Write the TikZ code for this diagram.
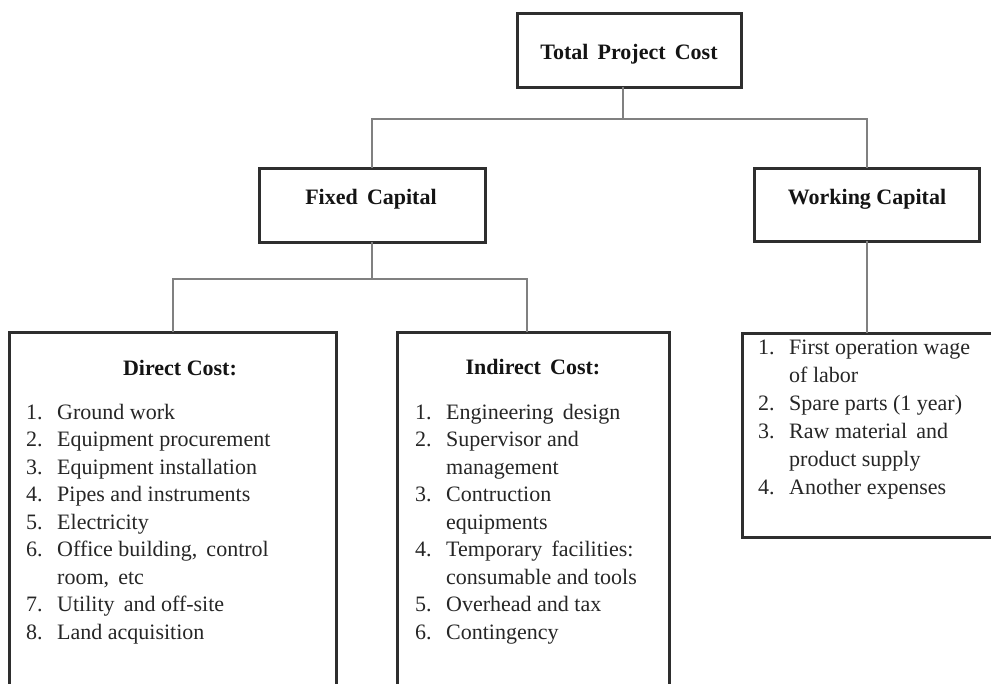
\documentclass[tikz,border=0pt]{standalone}
\usepackage{fontspec}
\setmainfont{Liberation Serif}
\newcommand{\li}[2]{\makebox[31pt][l]{#1}#2}
\begin{document}
\begin{tikzpicture}[x=1pt,y=-1pt,
  box/.style={draw=black!82, line width=3pt, inner sep=0pt, outer sep=0pt, anchor=north west},
  conn/.style={draw=black!50, line width=2pt},
  ttl/.style={font=\bfseries\fontsize{22}{26}\selectfont, text=black!92, inner sep=0pt, anchor=base},
  lst/.style={font=\fontsize{22}{27.5}\selectfont, text=black!85, inner sep=0pt, anchor=base west},
  lstw/.style={font=\fontsize{22}{28}\selectfont, text=black!85, inner sep=0pt, anchor=base west}]
\useasboundingbox (0,0) rectangle (991,683);
\fill[white] (0,0) rectangle (991,683);
% boxes
\node[box, minimum width=224pt, minimum height=74pt] (total) at (517,13) {};
\node[box, minimum width=226pt, minimum height=74pt] (fixed) at (259,168) {};
\node[box, minimum width=225pt, minimum height=73pt] (working) at (754,168) {};
\node[box, minimum width=327pt, minimum height=360pt] (direct) at (9,332) {};
\node[box, minimum width=272pt, minimum height=360pt] (indirect) at (397,332) {};
\node[box, minimum width=270pt, minimum height=204pt] (wlist) at (742,333) {};
% junctions
\coordinate (j1) at (623,119);
\coordinate (j2) at (372,279);
\coordinate (j3) at (527,279);
% connectors
\draw[conn] (j1 |- total.south) -- (j1);
\draw[conn] (fixed.north) |- (j1) -| (working.north);
\draw[conn] (j2 |- fixed.south) -- (j2);
\draw[conn] (direct.north) |- (j2) -- (j3) -- (j3 |- indirect.north);
\draw[conn] (working.south) -- (working.south |- wlist.north);
% titles
\node[ttl] (tt) at (629,59) {Total\, Project\, Cost};
\node[ttl] (ft) at (371,204) {Fixed\, Capital};
\node[ttl] (wt) at (867,204) {Working Capital};
\node[ttl] (dt) at (180,375) {Direct Cost:};
\node[ttl] (it) at (533,374) {Indirect\, Cost:};
% lists
\node[lst] (dl) at (26,419) {\begin{tabular}[t]{@{}l@{}}
\li{1.}{Ground work}\\
\li{2.}{Equipment procurement}\\
\li{3.}{Equipment installation}\\
\li{4.}{Pipes and instruments}\\
\li{5.}{Electricity}\\
\li{6.}{Office building,\, control}\\
\li{}{room,\, etc}\\
\li{7.}{Utility\, and off-site}\\
\li{8.}{Land acquisition}
\end{tabular}};
\node[lst] (il) at (415,419) {\begin{tabular}[t]{@{}l@{}}
\li{1.}{Engineering\, design}\\
\li{2.}{Supervisor and}\\
\li{}{management}\\
\li{3.}{Contruction}\\
\li{}{equipments}\\
\li{4.}{Temporary\, facilities:}\\
\li{}{consumable and tools}\\
\li{5.}{Overhead and tax}\\
\li{6.}{Contingency}
\end{tabular}};
\node[lstw] (wl) at (758,354) {\begin{tabular}[t]{@{}l@{}}
\li{1.}{First operation wage}\\
\li{}{of labor}\\
\li{2.}{Spare parts (1 year)}\\
\li{3.}{Raw material\, and}\\
\li{}{product supply}\\
\li{4.}{Another expenses}
\end{tabular}};
\end{tikzpicture}
\end{document}
